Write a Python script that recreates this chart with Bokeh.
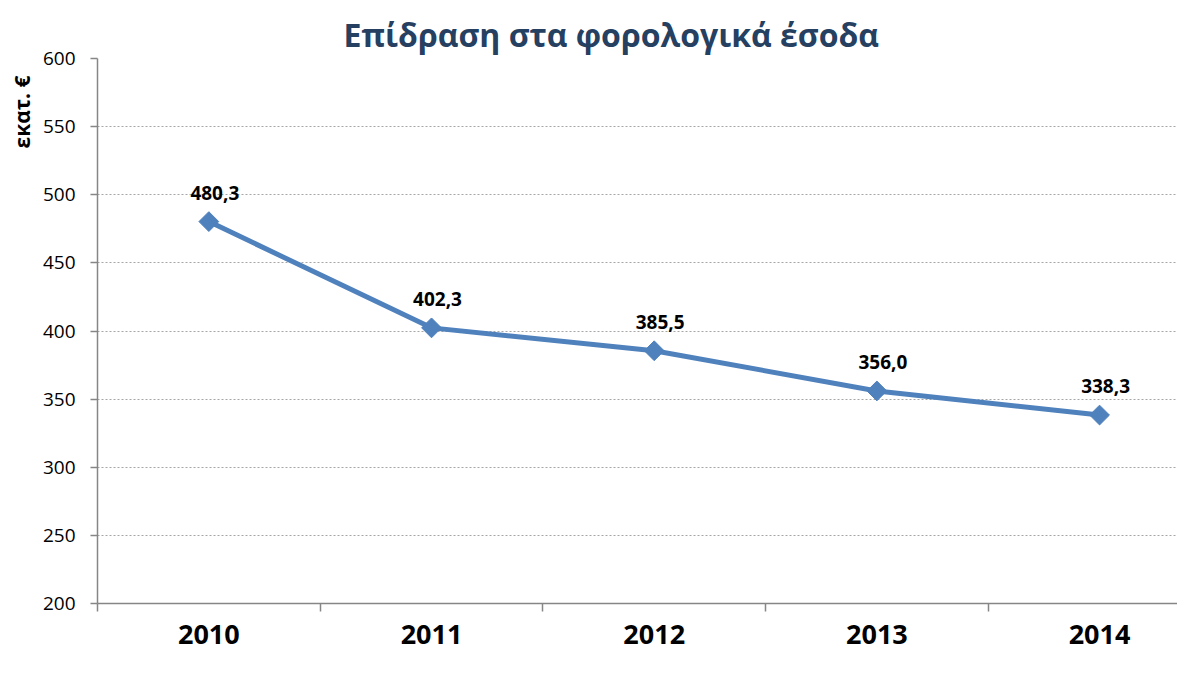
import math
from bokeh.plotting import figure
from bokeh.models import Range1d, FixedTicker, Title, ColumnDataSource, LabelSet
from bokeh.core.properties import value
from bokeh.embed import file_html
from bokeh.resources import INLINE

years = ["2010", "2011", "2012", "2013", "2014"]
values = [480.3, 402.3, 385.5, 356.0, 338.3]
labels = ["480,3", "402,3", "385,5", "356,0", "338,3"]
y_ticks = [200, 250, 300, 350, 400, 450, 500, 550, 600]
title_text = "Επίδραση στα φορολογικά έσοδα"
y_label_text = "εκατ. €"

FONT = "Open Sans"
xs = list(range(len(years)))

p = figure(width=1177, height=658, output_backend="svg", toolbar_location=None,
           x_range=Range1d(-0.5, 4.35), y_range=Range1d(200, 600),
           min_border_left=97, min_border_right=0, min_border_top=58, min_border_bottom=55)
p.outline_line_color = None
p.background_fill_color = "white"
p.border_fill_color = "white"

p.title.text = title_text
p.title.align = "left"
p.title.offset = 246
p.title.text_font = FONT
p.title.text_font_style = "bold"
p.title.text_font_size = "32px"
p.title.text_color = "#254061"
p.title.standoff = 6

# y label as a left-side title near the top
p.add_layout(Title(text=y_label_text, align="right", offset=17, text_font=FONT,
                   text_font_style="bold", text_font_size="21px",
                   text_color="#000000", standoff=8), "left")

# grid
p.xgrid.grid_line_color = None
p.ygrid.grid_line_color = "#A6A6A6"
p.ygrid.grid_line_dash = "2 2"
p.ygrid.grid_line_width = 1
p.ygrid.ticker = FixedTicker(ticks=y_ticks)

# y axis
p.yaxis.ticker = FixedTicker(ticks=y_ticks)
p.yaxis.axis_line_color = "#868686"
p.yaxis.axis_line_width = 1.5
p.yaxis.major_tick_line_color = "#868686"
p.yaxis.major_tick_line_width = 1.5
p.yaxis.major_tick_out = 7
p.yaxis.major_tick_in = 0
p.yaxis.minor_tick_line_color = None
p.yaxis.major_label_standoff = 15
p.yaxis.major_label_text_font = FONT
p.yaxis.major_label_text_font_size = "19px"
p.yaxis.major_label_text_color = "#000000"

# x axis
p.xaxis.ticker = FixedTicker(ticks=xs, minor_ticks=[-0.5, 0.5, 1.5, 2.5, 3.5])
p.xaxis.major_label_overrides = {i: y for i, y in enumerate(years)}
p.xaxis.axis_line_color = "#868686"
p.xaxis.axis_line_width = 1.5
p.xaxis.major_tick_line_color = None
p.xaxis.minor_tick_line_color = "#868686"
p.xaxis.minor_tick_line_width = 1.5
p.xaxis.minor_tick_out = 8
p.xaxis.minor_tick_in = 0
p.xaxis.major_label_standoff = 13
p.xaxis.major_label_text_font = FONT
p.xaxis.major_label_text_font_style = "bold"
p.xaxis.major_label_text_font_size = "27px"
p.xaxis.major_label_text_color = "#000000"

src = ColumnDataSource(dict(x=xs, y=values, lab=labels))
p.line("x", "y", source=src, line_color="#4F81BD", line_width=5)
p.scatter("x", "y", source=src, marker="square", angle=math.pi / 4, size=14,
          fill_color="#4F81BD", line_color="#4F81BD")

ls = LabelSet(x="x", y="y", text="lab", source=src, x_offset=6, y_offset=22,
              text_align="center", text_baseline="bottom", text_font=value(FONT),
              text_font_style="bold", text_font_size="19px", text_color="#000000")
p.add_layout(ls)

open("out.html", "w").write(file_html(p, INLINE))
